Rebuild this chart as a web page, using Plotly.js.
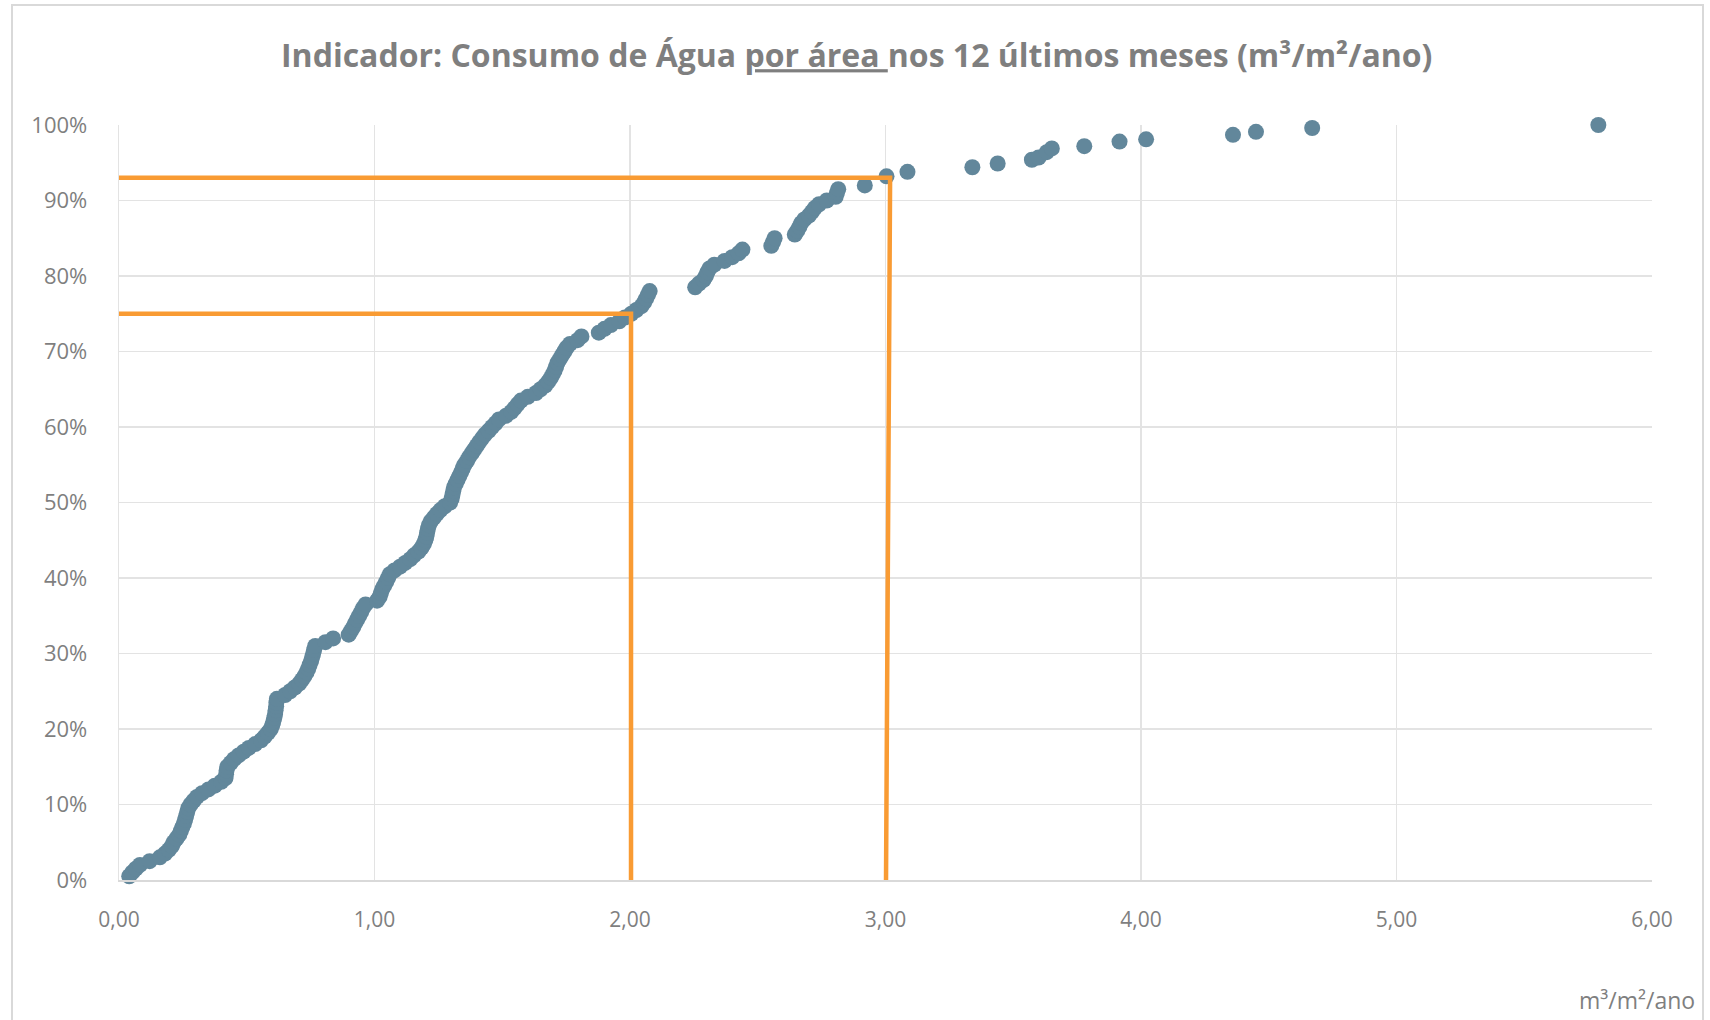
<!DOCTYPE html>
<html>
<head>
<meta charset="utf-8">
<script src="https://cdn.plot.ly/plotly-3.0.1.min.js"></script>
<style>
  html, body { margin: 0; padding: 0; background: #ffffff; }
  #chart { width: 1710px; height: 1020px; }
</style>
</head>
<body>
<div id="chart"></div>
<script>
// Consumption per area (m³/m²/ano), sorted ascending
const consumo = [
  0.040, 0.052, 0.066, 0.082, 0.120, 0.160, 0.180, 0.195, 0.207, 0.214,
  0.225, 0.236, 0.242, 0.248, 0.254, 0.259, 0.263, 0.267, 0.271, 0.280,
  0.292, 0.305, 0.325, 0.350, 0.375, 0.400, 0.417, 0.419, 0.421, 0.424,
  0.437, 0.450, 0.468, 0.488, 0.508, 0.533, 0.556, 0.570, 0.583, 0.594,
  0.600, 0.604, 0.608, 0.611, 0.613, 0.615, 0.616, 0.618, 0.650, 0.670,
  0.688, 0.705, 0.716, 0.726, 0.734, 0.741, 0.746, 0.752, 0.756, 0.760,
  0.764, 0.768, 0.808, 0.838, 0.899, 0.908, 0.917, 0.924, 0.932, 0.940,
  0.948, 0.955, 0.965, 1.010, 1.020, 1.025, 1.030, 1.038, 1.046, 1.053,
  1.060, 1.078, 1.100, 1.120, 1.140, 1.155, 1.172, 1.184, 1.193, 1.199,
  1.203, 1.206, 1.209, 1.213, 1.220, 1.232, 1.244, 1.258, 1.275, 1.296,
  1.302, 1.305, 1.308, 1.311, 1.318, 1.325, 1.332, 1.339, 1.345, 1.352,
  1.362, 1.370, 1.380, 1.390, 1.400, 1.410, 1.421, 1.432, 1.447, 1.460,
  1.474, 1.487, 1.515, 1.535, 1.548, 1.560, 1.573, 1.600, 1.632, 1.650,
  1.668, 1.680, 1.690, 1.698, 1.705, 1.711, 1.716, 1.725, 1.734, 1.743,
  1.752, 1.765, 1.795, 1.810, 1.878, 1.900, 1.925, 1.958, 1.980, 2.005,
  2.025, 2.045, 2.055, 2.063, 2.070, 2.077, 2.255, 2.270, 2.288, 2.297,
  2.303, 2.311, 2.330, 2.370, 2.400, 2.425, 2.440, 2.553, 2.560, 2.566,
  2.645, 2.655, 2.663, 2.670, 2.682, 2.700, 2.712, 2.723, 2.740, 2.770,
  2.805, 2.810, 2.815, 2.919, 3.004, 3.086, 3.340, 3.439, 3.573, 3.599,
  3.631, 3.651, 3.778, 3.916, 4.020, 4.360, 4.450, 4.670, 5.790
];
// Cumulative share of buildings (%)
const acumulado = [
  0.5, 1.0, 1.5, 2.0, 2.5, 3.0, 3.5, 4.0, 4.5, 5.0,
  5.5, 6.0, 6.5, 7.0, 7.5, 8.0, 8.5, 9.0, 9.5, 10.0,
  10.5, 11.0, 11.5, 12.0, 12.5, 13.0, 13.5, 14.0, 14.5, 15.0,
  15.5, 16.0, 16.5, 17.0, 17.5, 18.0, 18.5, 19.0, 19.5, 20.0,
  20.5, 21.0, 21.5, 22.0, 22.5, 23.0, 23.5, 24.0, 24.5, 25.0,
  25.5, 26.0, 26.5, 27.0, 27.5, 28.0, 28.5, 29.0, 29.5, 30.0,
  30.5, 31.0, 31.5, 32.0, 32.5, 33.0, 33.5, 34.0, 34.5, 35.0,
  35.5, 36.0, 36.5, 37.0, 37.5, 38.0, 38.5, 39.0, 39.5, 40.0,
  40.5, 41.0, 41.5, 42.0, 42.5, 43.0, 43.5, 44.0, 44.5, 45.0,
  45.5, 46.0, 46.5, 47.0, 47.5, 48.0, 48.5, 49.0, 49.5, 50.0,
  50.5, 51.0, 51.5, 52.0, 52.5, 53.0, 53.5, 54.0, 54.5, 55.0,
  55.5, 56.0, 56.5, 57.0, 57.5, 58.0, 58.5, 59.0, 59.5, 60.0,
  60.5, 61.0, 61.5, 62.0, 62.5, 63.0, 63.5, 64.0, 64.5, 65.0,
  65.5, 66.0, 66.5, 67.0, 67.5, 68.0, 68.5, 69.0, 69.5, 70.0,
  70.5, 71.0, 71.5, 72.0, 72.5, 73.0, 73.5, 74.0, 74.5, 75.0,
  75.5, 76.0, 76.5, 77.0, 77.5, 78.0, 78.5, 79.0, 79.5, 80.0,
  80.5, 81.0, 81.5, 82.0, 82.5, 83.0, 83.5, 84.0, 84.5, 85.0,
  85.5, 86.0, 86.5, 87.0, 87.5, 88.0, 88.5, 89.0, 89.5, 90.0,
  90.5, 91.0, 91.5, 92.0, 93.2, 93.8, 94.4, 94.9, 95.4, 95.7,
  96.4, 96.9, 97.2, 97.8, 98.1, 98.7, 99.1, 99.6, 100.0
];
// Reference lines (75% and 93% percentiles)
const ref75X = [-0.009, 2.004, 2.004];
const ref75Y = [75.0, 75.0, 0];
const ref93X = [-0.017, 3.018, 3.002];
const ref93Y = [93.0, 93.0, 0];
// Axis ticks
const xTickVals = [0, 1, 2, 3, 4, 5, 6];
const xTickText = ['0,00', '1,00', '2,00', '3,00', '4,00', '5,00', '6,00'];
const yTickVals = [0, 10, 20, 30, 40, 50, 60, 70, 80, 90, 100];
const yTickText = ['0%', '10%', '20%', '30%', '40%', '50%', '60%', '70%', '80%', '90%', '100%'];

const FONT = '"Open Sans", "Noto Sans", sans-serif';
const GRAY = '#7f7f7f';
const ORANGE = '#f99b33';

const traces = [
  {
    type: 'scatter', mode: 'markers', x: consumo, y: acumulado,
    marker: { color: '#62879b', size: 16, line: { width: 0 } },
    cliponaxis: false, hoverinfo: 'x+y', showlegend: false
  },
  {
    type: 'scatter', mode: 'lines', x: ref75X, y: ref75Y,
    line: { color: ORANGE, width: 4.5 }, showlegend: false, hoverinfo: 'skip'
  },
  {
    type: 'scatter', mode: 'lines', x: ref93X, y: ref93Y,
    line: { color: ORANGE, width: 4.5 }, showlegend: false, hoverinfo: 'skip'
  }
];

const layout = {
  width: 1710, height: 1020,
  margin: { l: 119, r: 58, t: 125, b: 140 },
  paper_bgcolor: '#ffffff', plot_bgcolor: '#ffffff',
  showlegend: false,
  font: { family: FONT, color: GRAY, size: 21 },
  title: {
    text: 'Indicador: Consumo de Água <u>por área </u>nos 12 últimos meses (m³/m²/ano)',
    font: { family: FONT, size: 32, color: GRAY, weight: 700 },
    x: 0.501, xref: 'container', xanchor: 'center',
    y: 1 - 56 / 1020, yref: 'container', yanchor: 'middle'
  },
  xaxis: {
    range: [0, 6], tickvals: xTickVals, ticktext: xTickText,
    showgrid: true, gridcolor: '#e3e3e3', gridwidth: 1.3,
    zeroline: false, showline: true, linecolor: '#d9d9d9', linewidth: 1.5,
    ticks: '', ticklabelstandoff: 20,
    tickfont: { family: FONT, size: 21, color: GRAY }
  },
  yaxis: {
    range: [0, 100], tickvals: yTickVals, ticktext: yTickText,
    showgrid: true, gridcolor: '#e3e3e3', gridwidth: 1.3,
    zeroline: false, showline: true, linecolor: '#e3e3e3', linewidth: 1.3,
    ticks: '', ticklabelstandoff: 26,
    tickfont: { family: FONT, size: 22, color: GRAY }
  },
  annotations: [
    {
      text: 'm³/m²/ano', xref: 'paper', yref: 'paper',
      x: (1697 - 119) / 1533, y: (880 - 1000) / 755,
      xanchor: 'right', yanchor: 'middle', showarrow: false,
      font: { family: FONT, size: 23, color: GRAY }
    }
  ],
  shapes: [
    {
      type: 'rect', xref: 'paper', yref: 'paper', layer: 'below',
      x0: (12 - 119) / 1533, x1: (1703 - 119) / 1533,
      y0: (880 - 1030) / 755, y1: (880 - 5) / 755,
      line: { color: '#d9d9d9', width: 2 }, fillcolor: 'rgba(0,0,0,0)'
    }
  ]
};

Plotly.newPlot('chart', traces, layout, { displayModeBar: false, staticPlot: true });
</script>
</body>
</html>
